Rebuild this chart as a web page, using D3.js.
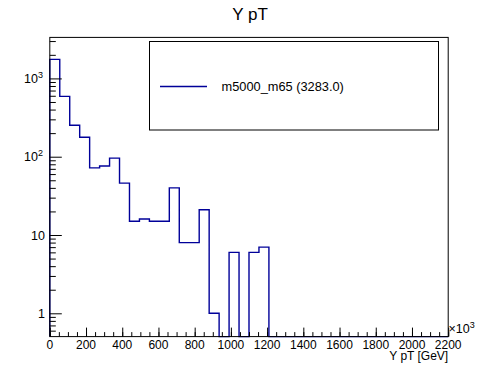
<!DOCTYPE html>
<html>
<head>
<meta charset="utf-8">
<script src="https://cdn.jsdelivr.net/npm/d3@7"></script>
<style>
  body { margin: 0; background: #fff; }
  svg { display: block; }
  text { font-family: "Liberation Sans", Arial, Helvetica, sans-serif; fill: #000; }
</style>
</head>
<body>
<div id="chart"></div>
<script>
// histogram: 40 bins of 55 (x10^3) between 0 and 2200
const binLow = 0, binHigh = 2200, nBins = 40;
const counts = [1750, 590, 252, 177, 72, 76, 96, 46, 15, 16,
                15, 15, 40, 8, 8, 21, 1, 0, 6, 0,
                6, 7, 0, 0, 0, 0, 0, 0, 0, 0,
                0, 0, 0, 0, 0, 0, 0, 0, 0, 0];
const xTickValues = [0, 200, 400, 600, 800, 1000, 1200, 1400, 1600, 1800, 2000, 2200];
const yMajorTicks = [1, 10, 100, 1000];
const yTickLabels = [{ base: "1", sup: "" }, { base: "10", sup: "" }, { base: "10", sup: "2" }, { base: "10", sup: "3" }];
const titleText = "Y pT";
const xTitleText = "Y pT [GeV]";
const legendText = "m5000_m65 (3283.0)";

const width = 498, height = 374;
const margin = { top: 37.4, bottom: 37.4, left: 49.8, right: 49.8 };
const lineColor = "#000099";

const svg = d3.select("#chart").append("svg")
    .attr("width", width)
    .attr("height", height);

const xScale = d3.scaleLinear()
    .domain([binLow, binHigh])
    .range([margin.left, width - margin.right]);

const yScale = d3.scaleLog()
    .domain([0.504, 3340])
    .range([height - margin.bottom, margin.top]);

const binW = (binHigh - binLow) / nBins;
const yMin = yScale.domain()[0];

// histogram outline, zero bins sit on the bottom of the frame
const p = d3.path();
p.moveTo(xScale(binLow), yScale(yMin));
counts.forEach((c, i) => {
    const v = Math.max(c, yMin);
    const x0 = xScale(binLow + i * binW), x1 = xScale(binLow + (i + 1) * binW);
    p.lineTo(x0, yScale(v));
    p.lineTo(x1, yScale(v));
});
svg.append("path")
    .attr("d", p.toString())
    .attr("fill", "none")
    .attr("stroke", lineColor)
    .attr("stroke-width", 1.4);

// frame
svg.append("rect")
    .attr("x", margin.left)
    .attr("y", margin.top)
    .attr("width", width - margin.left - margin.right)
    .attr("height", height - margin.top - margin.bottom)
    .attr("fill", "none")
    .attr("stroke", "#000")
    .attr("stroke-width", 1);

// x axis: ticks pointing up into the frame
const xMinor = d3.range(0, 2201, 50);
const xAxis = d3.axisTop(xScale)
    .tickValues(xMinor)
    .tickSize(4.5)
    .tickFormat("");
const xAxisMajor = d3.axisTop(xScale)
    .tickValues(xTickValues)
    .tickSize(9)
    .tickFormat("");
svg.append("g").attr("transform", `translate(0,${height - margin.bottom})`).call(xAxis)
    .call(g => g.select(".domain").remove());
svg.append("g").attr("transform", `translate(0,${height - margin.bottom})`).call(xAxisMajor)
    .call(g => g.select(".domain").remove());
svg.selectAll(".tick line").attr("stroke", "#000");

svg.append("g").selectAll("text")
    .data(xTickValues)
    .enter()
    .append("text")
    .attr("x", d => xScale(d))
    .attr("y", 348.5)
    .attr("text-anchor", "middle")
    .attr("font-size", 12)
    .text(d => d);

// x10^3 multiplier
const mult = svg.append("text").attr("x", 448.5).attr("y", 333).attr("font-size", 12.5);
mult.append("tspan").text("\u00d710");
mult.append("tspan").attr("dy", -5).attr("font-size", 9).text("3");

svg.append("text")
    .attr("x", width - margin.right)
    .attr("y", 360)
    .attr("text-anchor", "end")
    .attr("font-size", 12)
    .text(xTitleText);

// y axis: log ticks pointing right into the frame
const yMinor = [];
[0.1, 1, 10, 100, 1000].forEach(dec => {
    for (let k = 2; k <= 9; k++) {
        const v = dec * k;
        if (v >= yScale.domain()[0] && v <= yScale.domain()[1]) yMinor.push(v);
    }
});
svg.append("g").attr("transform", `translate(${margin.left},0)`)
    .call(d3.axisRight(yScale).tickValues(yMinor).tickSize(6).tickFormat(""))
    .call(g => g.select(".domain").remove());
svg.append("g").attr("transform", `translate(${margin.left},0)`)
    .call(d3.axisRight(yScale).tickValues(yMajorTicks).tickSize(12).tickFormat(""))
    .call(g => g.select(".domain").remove());
svg.selectAll(".tick line").attr("stroke", "#000");

yMajorTicks.forEach((v, i) => {
    const lab = yTickLabels[i];
    const t = svg.append("text")
        .attr("x", lab.sup ? 43 : 45)
        .attr("y", yScale(v) + 4.5)
        .attr("text-anchor", "end")
        .attr("font-size", 12.5);
    t.append("tspan").text(lab.base);
    if (lab.sup) t.append("tspan").attr("dy", -5).attr("font-size", 9).text(lab.sup);
});

// title
svg.append("text")
    .attr("x", 250)
    .attr("y", 19.5)
    .attr("text-anchor", "middle")
    .attr("font-size", 17)
    .text(titleText);

// legend
const leg = svg.append("g");
leg.append("rect")
    .attr("x", 149.5).attr("y", 41.5)
    .attr("width", 289).attr("height", 88.5)
    .attr("fill", "#fff")
    .attr("stroke", "#000")
    .attr("stroke-width", 1);
leg.append("line")
    .attr("x1", 160).attr("x2", 207)
    .attr("y1", 86.5).attr("y2", 86.5)
    .attr("stroke", lineColor)
    .attr("stroke-width", 1.4);
leg.append("text")
    .attr("x", 221.5)
    .attr("y", 91)
    .attr("font-size", 12.8)
    .text(legendText);
</script>
</body>
</html>
